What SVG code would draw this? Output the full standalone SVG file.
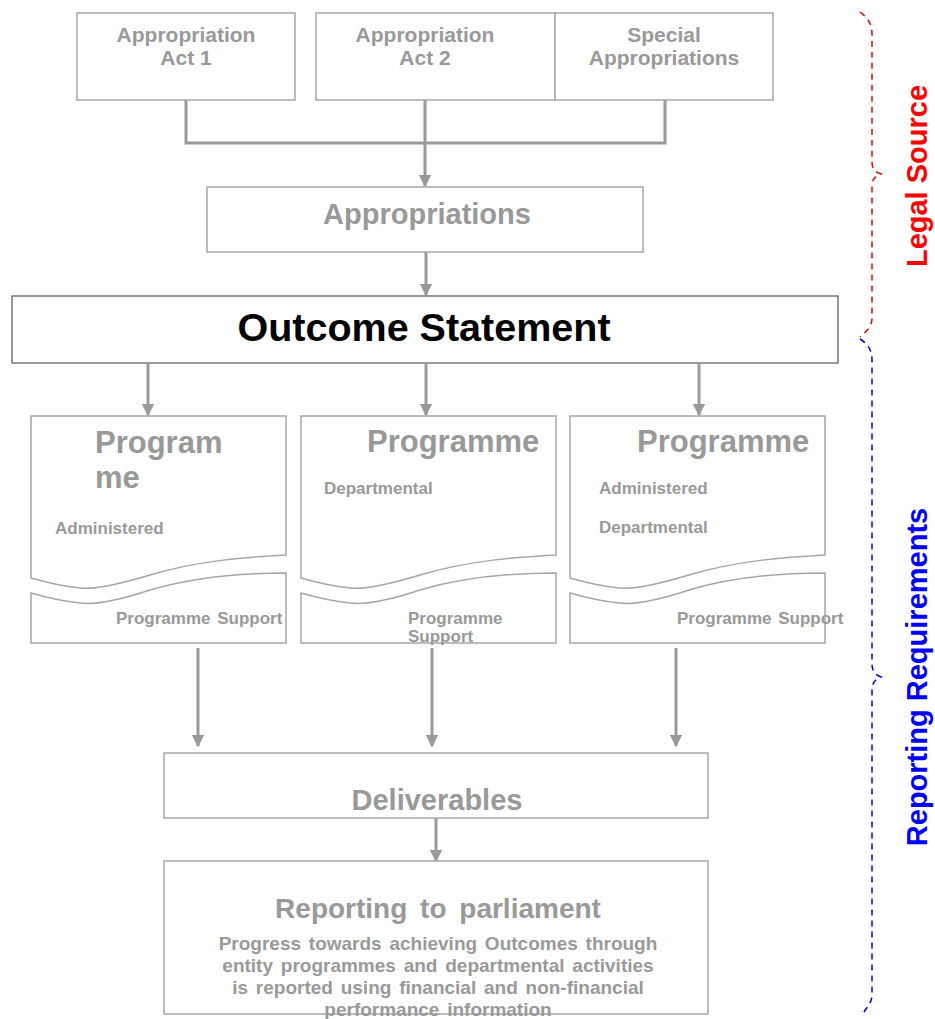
<svg xmlns="http://www.w3.org/2000/svg" width="935" height="1019" viewBox="0 0 935 1019">
<style>
.box{fill:#fff;stroke:#a6a6a6;stroke-width:1.5}
.t{font-family:"Liberation Sans",Arial,sans-serif;font-weight:bold;fill:#999}
.c{text-anchor:middle}
.ln{stroke:#999;stroke-width:3;fill:none}
.side{font-family:"Liberation Sans",Arial,sans-serif;font-weight:bold;font-size:29px;text-anchor:middle}
</style>
<defs>
<marker id="ah" viewBox="0 0 10 10" refX="9" refY="5" markerWidth="4.2" markerHeight="4.2" orient="auto" markerUnits="strokeWidth">
<path d="M0,0 L10,5 L0,10 Z" fill="#999"/>
</marker>
</defs>
<rect width="935" height="1019" fill="#fff"/>

<g id="connectors">
<path class="ln" d="M186,100 V143 H665 V100"/>
<path class="ln" d="M425,100 V186" marker-end="url(#ah)"/>
<path class="ln" d="M426,252 V295" marker-end="url(#ah)"/>
<path class="ln" d="M148,364 V415" marker-end="url(#ah)"/>
<path class="ln" d="M426,364 V415" marker-end="url(#ah)"/>
<path class="ln" d="M699,364 V415" marker-end="url(#ah)"/>
<path class="ln" d="M198,648 V746" marker-end="url(#ah)"/>
<path class="ln" d="M432,648 V746" marker-end="url(#ah)"/>
<path class="ln" d="M676,648 V746" marker-end="url(#ah)"/>
<path class="ln" d="M436,818 V861" marker-end="url(#ah)"/>
</g>

<g id="act1">
<rect class="box" x="77" y="13" width="218" height="87"/>
<text class="t c" x="186" y="42" font-size="21">Appropriation</text>
<text class="t c" x="186" y="65" font-size="21">Act 1</text>
</g>
<g id="act2">
<rect class="box" x="316" y="13" width="239" height="87"/>
<text class="t c" x="425" y="42" font-size="21">Appropriation</text>
<text class="t c" x="425" y="65" font-size="21">Act 2</text>
</g>
<g id="special">
<rect class="box" x="555" y="13" width="218" height="87"/>
<text class="t c" x="664" y="42" font-size="21">Special</text>
<text class="t c" x="664" y="65" font-size="21">Appropriations</text>
</g>

<g id="appropriations">
<rect class="box" x="207" y="187" width="436" height="65"/>
<text class="t c" x="427" y="224" font-size="29">Appropriations</text>
</g>

<g id="outcome">
<rect x="12" y="296" width="826" height="67" fill="#fff" stroke="#555" stroke-width="1.2"/>
<text class="c" x="424" y="341" font-family="Liberation Sans,Arial,sans-serif" font-weight="bold" font-size="39.5" fill="#000">Outcome Statement</text>
</g>

<g id="programme1">
<path class="box" d="M31,416 H286 V555 C250,557 200,560 150,575 C120,584 95,590 80,588 C60,586 45,582 31,578 Z"/>
<path class="box" d="M31,593 C45,597 60,601 80,603 C95,605 120,600 150,590 C200,575 250,573 286,573 V643 H31 Z"/>
<text class="t" x="95" y="453" font-size="31">Program</text>
<text class="t" x="95" y="488" font-size="31">me</text>
<text class="t" x="55" y="534" font-size="17">Administered</text>
<text class="t" x="116" y="624" font-size="17" word-spacing="2">Programme Support</text>
</g>

<g id="programme2">
<path class="box" d="M301,416 H556 V555 C520,557 470,560 420,575 C390,584 365,590 350,588 C330,586 315,582 301,578 Z"/>
<path class="box" d="M301,593 C315,597 330,601 350,603 C365,605 390,600 420,590 C470,575 520,573 556,573 V643 H301 Z"/>
<text class="t" x="367" y="452" font-size="31">Programme</text>
<text class="t" x="324" y="494" font-size="17">Departmental</text>
<text class="t" x="408" y="624" font-size="17">Programme</text>
<text class="t" x="408" y="642" font-size="17">Support</text>
</g>

<g id="programme3">
<path class="box" d="M570,416 H825 V555 C789,557 739,560 689,575 C659,584 634,590 619,588 C599,586 584,582 570,578 Z"/>
<path class="box" d="M570,593 C584,597 599,601 619,603 C634,605 659,600 689,590 C739,575 789,573 825,573 V643 H570 Z"/>
<text class="t" x="637" y="452" font-size="31">Programme</text>
<text class="t" x="599" y="494" font-size="17">Administered</text>
<text class="t" x="599" y="533" font-size="17">Departmental</text>
<text class="t" x="677" y="624" font-size="17" word-spacing="2">Programme Support</text>
</g>

<g id="deliverables">
<rect class="box" x="164" y="753" width="544" height="65"/>
<text class="t c" x="437" y="810" font-size="29">Deliverables</text>
</g>

<g id="reporting">
<rect class="box" x="164" y="861" width="544" height="153"/>
<text class="t c" x="438" y="918" font-size="28" word-spacing="5">Reporting to parliament</text>
<text class="t c" x="438" y="950" font-size="19" word-spacing="2.5">Progress towards achieving Outcomes through</text>
<text class="t c" x="438" y="972" font-size="19" word-spacing="2.5">entity programmes and departmental activities</text>
<text class="t c" x="438" y="994" font-size="19" word-spacing="2.5">is reported using financial and non-financial</text>
<text class="t c" x="438" y="1016" font-size="19" word-spacing="2.5">performance information</text>
</g>

<g id="legal-source">
<path d="M860,12 C868,18 872,24 872,34 V162 C872,170 876,172 881,174 C876,176 872,178 872,186 V318 C872,326 868,330 860,337" fill="none" stroke="#e00" stroke-width="1.5" stroke-dasharray="6,5"/>
<text class="side" fill="#f00" transform="translate(927,176) rotate(-90)">Legal Source</text>
</g>

<g id="reporting-requirements">
<path d="M860,339 C868,344 872,350 872,360 V664 C872,672 876,675 881,677 C876,679 872,682 872,690 V995 C872,1002 868,1006 864,1012" fill="none" stroke="#00d" stroke-width="1.5" stroke-dasharray="6,5"/>
<text class="side" fill="#00f" transform="translate(927,677) rotate(-90)">Reporting Requirements</text>
</g>
</svg>
